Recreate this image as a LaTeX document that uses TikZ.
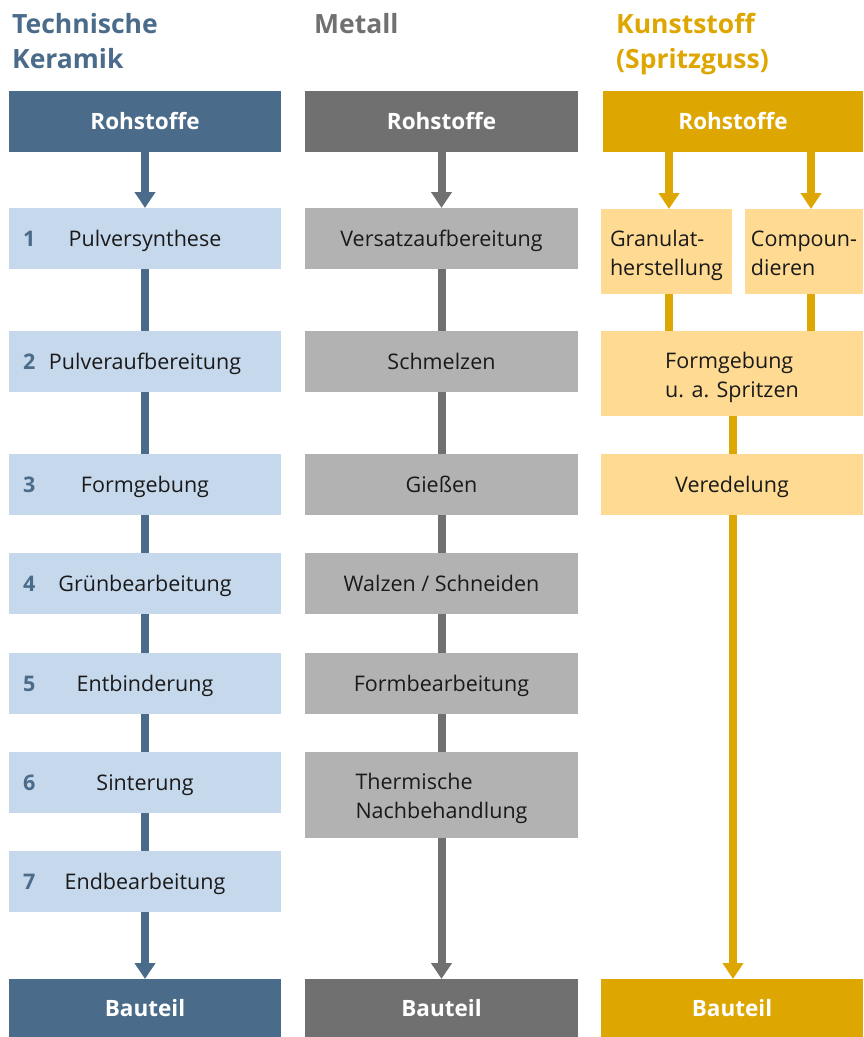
\documentclass[tikz,border=0pt]{standalone}
\usepackage{fontspec}
\setmainfont{Open Sans}
\usetikzlibrary{arrows.meta}
\definecolor{kdark}{RGB}{74,107,137}
\definecolor{klight}{RGB}{198,216,236}
\definecolor{mdark}{RGB}{112,112,112}
\definecolor{mlight}{RGB}{178,178,178}
\definecolor{pdark}{RGB}{222,166,0}
\definecolor{plight}{RGB}{254,218,146}
\definecolor{ink}{RGB}{26,26,26}
\newcommand\tsa{\rule{0pt}{24pt}}
\newcommand\tsb{\rule[-5pt]{0pt}{5pt}}
\begin{document}
\begin{tikzpicture}[x=1pt,y=-1pt,
  box/.style={inner sep=0pt, outer sep=0pt, minimum height=61pt,
    font=\fontsize{21.5}{29}\selectfont, text=ink},
  one/.style={box, text height=16.6pt, text depth=0pt},
  two/.style={box, align=left},
  hdr/.style={box, font=\fontsize{22.5}{29}\selectfont\bfseries, text=white,
    text height=15.5pt, text depth=0pt},
  kw/.style={minimum width=272pt},
  mw/.style={minimum width=273pt},
  pw/.style={minimum width=262pt},
  num/.style={inner sep=0pt, anchor=base west, font=\fontsize{21.5}{29}\selectfont\bfseries, text=kdark},
  ttl/.style={inner sep=0pt, anchor=base west, font=\fontsize{26.5}{35}\selectfont\bfseries},
  conn/.style={line width=8pt},
  arr/.style={conn, -{Triangle[width=20pt,length=16pt]}}
]
\useasboundingbox (0,0) rectangle (863,1037);

% titles
\node[ttl, text=kdark] (t1a) at (12,33) {Technische};
\node[ttl, text=kdark] (t1b) at (12,68) {Keramik};
\node[ttl, text=mdark] (t2a) at (314,33) {Metall};
\node[ttl, text=pdark] (t3a) at (616,33) {Kunststoff};
\node[ttl, text=pdark] (t3b) at (616,68) {(Spritzguss)};

% column 1: Technische Keramik
\node[hdr, kw, fill=kdark] (k0) at (145,121.5) {Rohstoffe};
\node[one, kw, fill=klight] (k1) at (145,238.5) {Pulversynthese};
\node[one, kw, fill=klight] (k2) at (145,361.5) {Pulveraufbereitung};
\node[one, kw, fill=klight] (k3) at (145,484.5) {Formgebung};
\node[one, kw, fill=klight] (k4) at (145,583.5) {Grünbearbeitung};
\node[one, kw, fill=klight] (k5) at (145,683.5) {Entbinderung};
\node[one, kw, fill=klight] (k6) at (145,782.5) {Sinterung};
\node[one, kw, fill=klight] (k7) at (145,881.5) {Endbearbeitung};
\node[hdr, kw, fill=kdark, minimum height=58pt, text height=16.5pt] (k8) at (145,1008) {Bauteil};
\foreach \i in {1,...,7}{
  \node[num, xshift=14pt, yshift=-8.3pt] (n\i) at (k\i.west) {\i};
}
\draw[arr, kdark] (k0) -- (k1);
\draw[conn, kdark] (k1) -- (k2);
\draw[conn, kdark] (k2) -- (k3);
\draw[conn, kdark] (k3) -- (k4);
\draw[conn, kdark] (k4) -- (k5);
\draw[conn, kdark] (k5) -- (k6);
\draw[conn, kdark] (k6) -- (k7);
\draw[arr, kdark] (k7) -- (k8);

% column 2: Metall
\node[hdr, mw, fill=mdark] (m0) at (441.5,121.5) {Rohstoffe};
\node[one, mw, fill=mlight] (m1) at (441.5,238.5) {Versatzaufbereitung};
\node[one, mw, fill=mlight] (m2) at (441.5,361.5) {Schmelzen};
\node[one, mw, fill=mlight] (m3) at (441.5,484.5) {Gießen};
\node[one, mw, fill=mlight] (m4) at (441.5,583.5) {Walzen / Schneiden};
\node[one, mw, fill=mlight] (m5) at (441.5,683.5) {Formbearbeitung};
\node[two, mw, fill=mlight, minimum height=86pt] (m6) at (441.5,795) {\tsa Thermische\\Nachbehandlung\tsb};
\node[hdr, mw, fill=mdark, minimum height=58pt, text height=16.5pt] (m7) at (441.5,1008) {Bauteil};
\draw[arr, mdark] (m0) -- (m1);
\draw[conn, mdark] (m1) -- (m2);
\draw[conn, mdark] (m2) -- (m3);
\draw[conn, mdark] (m3) -- (m4);
\draw[conn, mdark] (m4) -- (m5);
\draw[conn, mdark] (m5) -- (m6);
\draw[arr, mdark] (m6) -- (m7);

% column 3: Kunststoff
\coordinate (xg) at (669,0);
\coordinate (xc) at (811,0);
\coordinate (xm) at (733,0);
\node[hdr, minimum width=260pt, fill=pdark] (p0) at (733,121.5) {Rohstoffe};
\node[two, minimum width=131pt, minimum height=85pt, fill=plight] (pg) at (666.5,251.5) {\tsa Granulat-\\herstellung\tsb};
\node[two, minimum width=118pt, minimum height=85pt, fill=plight] (pc) at (804,251.5) {\tsa Compoun-\\dieren\tsb};
\node[two, pw, minimum height=85pt, fill=plight] (pf) at (732,373.5) {\tsa Formgebung\\u. a. Spritzen\tsb};
\node[one, pw, fill=plight] (pv) at (732,484.5) {Veredelung};
\node[hdr, pw, fill=pdark, minimum height=58pt, text height=16.5pt] (pb) at (732,1008) {Bauteil};
\draw[arr, pdark] (p0.south -| xg) -- (pg.north -| xg);
\draw[arr, pdark] (p0.south -| xc) -- (pc.north -| xc);
\draw[conn, pdark] (pg.south -| xg) -- (pf.north -| xg);
\draw[conn, pdark] (pc.south -| xc) -- (pf.north -| xc);
\draw[conn, pdark] (pf.south -| xm) -- (pv.north -| xm);
\draw[arr, pdark] (pv.south -| xm) -- (pb.north -| xm);
\end{tikzpicture}
\end{document}
